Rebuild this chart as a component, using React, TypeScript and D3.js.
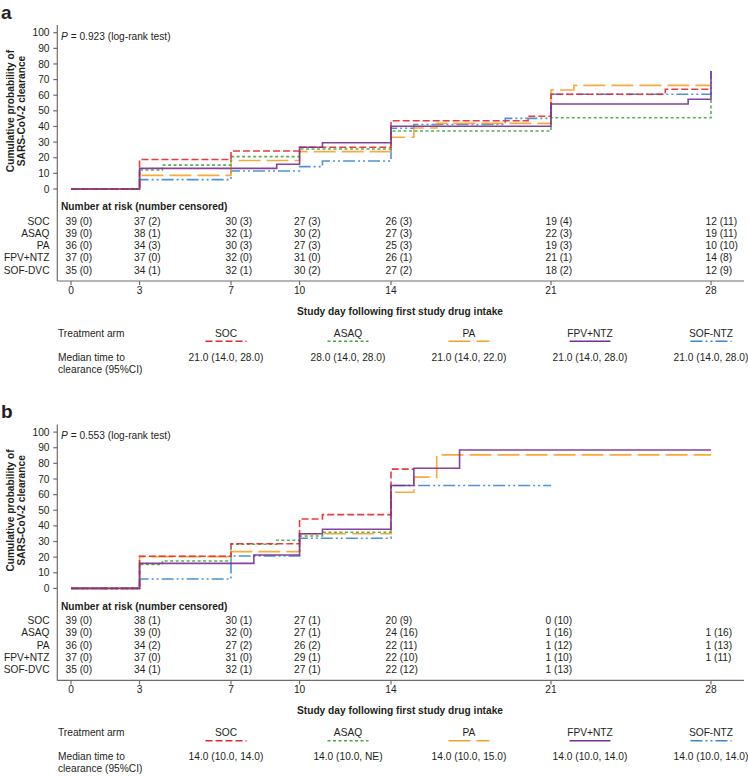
import React from "react";
import * as d3 from "d3";

// ---------- data ----------
const armNames = ["SOC", "ASAQ", "PA", "FPV+NTZ", "SOF-DVC"];
const legendNames = ["SOC", "ASAQ", "PA", "FPV+NTZ", "SOF-NTZ"];
const dayTicks = [0, 3, 7, 10, 14, 21, 28];
const yTicks = [0, 10, 20, 30, 40, 50, 60, 70, 80, 90, 100];

// Panel a step curves (day, cumulative %)
const aSocT = [0, 3, 7, 10, 14, 20, 21, 26, 28];
const aSocV = [0, 18.9, 24.3, 26.7, 43.7, 46.5, 60.6, 63.8, 63.8];
const aAsaqT = [0, 3, 4, 7, 10, 14, 21, 28];
const aAsaqV = [0, 12.2, 15.3, 20.7, 25.6, 37.1, 45.6, 56.9];
const aPaT = [0, 3, 7, 10, 14, 15, 16, 21, 22, 28];
const aPaV = [0, 8.7, 18.2, 23.9, 33.1, 39.0, 42.0, 63.3, 66.3, 66.3];
const aFpvT = [0, 3, 9, 10, 11, 14, 21, 27, 28];
const aFpvV = [0, 13.2, 15.8, 26.7, 29.6, 40.1, 54.4, 57.4, 75.5];
const aSofT = [0, 3, 7, 10, 11, 14, 15, 19, 21, 28];
const aSofV = [0, 6.0, 11.5, 14.3, 17.9, 38.9, 41.3, 45.2, 60.6, 75.5];

// Panel b step curves
const bSocT = [0, 3, 7, 10, 11, 14, 15];
const bSocV = [0, 20.6, 28.6, 44.4, 47.2, 76.3, 76.3];
const bAsaqT = [0, 3, 4, 7, 9, 10, 11, 14];
const bAsaqV = [0, 15.4, 17.5, 28.2, 30.8, 33.5, 35.9, 35.9];
const bPaT = [0, 3, 7, 10, 14, 15, 16, 28];
const bPaV = [0, 20.3, 23.5, 35.0, 61.5, 71.2, 85.4, 85.4];
const bFpvT = [0, 3, 8, 10, 11, 14, 15, 17, 28];
const bFpvV = [0, 16.0, 21.4, 35.0, 37.8, 65.8, 76.9, 88.5, 88.5];
const bSofT = [0, 3, 7, 10, 14, 21];
const bSofV = [0, 6.0, 20.7, 32.1, 65.8, 65.8];

// Numbers at risk
const aRiskSoc = ["39 (0)", "37 (2)", "30 (3)", "27 (3)", "26 (3)", "19 (4)", "12 (11)"];
const aRiskAsaq = ["39 (0)", "38 (1)", "32 (1)", "30 (2)", "27 (3)", "22 (3)", "19 (11)"];
const aRiskPa = ["36 (0)", "34 (3)", "30 (3)", "27 (3)", "25 (3)", "19 (3)", "10 (10)"];
const aRiskFpv = ["37 (0)", "37 (0)", "32 (0)", "31 (0)", "26 (1)", "21 (1)", "14 (8)"];
const aRiskSof = ["35 (0)", "34 (1)", "32 (1)", "30 (2)", "27 (2)", "18 (2)", "12 (9)"];

const bRiskSoc = ["39 (0)", "38 (1)", "30 (1)", "27 (1)", "20 (9)", "0 (10)", ""];
const bRiskAsaq = ["39 (0)", "39 (0)", "32 (0)", "27 (1)", "24 (16)", "1 (16)", "1 (16)"];
const bRiskPa = ["36 (0)", "34 (2)", "27 (2)", "26 (2)", "22 (11)", "1 (12)", "1 (13)"];
const bRiskFpv = ["37 (0)", "37 (0)", "31 (0)", "29 (1)", "22 (10)", "1 (10)", "1 (11)"];
const bRiskSof = ["35 (0)", "34 (1)", "32 (1)", "27 (1)", "22 (12)", "1 (13)", ""];

const aMedians = ["21.0 (14.0, 28.0)", "28.0 (14.0, 28.0)", "21.0 (14.0, 22.0)", "21.0 (14.0, 28.0)", "21.0 (14.0, 28.0)"];
const bMedians = ["14.0 (10.0, 14.0)", "14.0 (10.0, NE)", "14.0 (10.0, 15.0)", "14.0 (10.0, 14.0)", "14.0 (10.0, 14.0)"];

const aPValue = "0.923";
const bPValue = "0.553";

// ---------- styles ----------
const COLORS = ["#E8262C", "#45A844", "#F5A028", "#7A2F8F", "#3A86CF"];
const DASHES = ["7,3", "3,2.5", "22,6", "none", "12,3,2,3,2,3"];
const DRAW_ORDER = [4, 2, 1, 0, 3];
const FONT = "'Liberation Sans', Arial, Helvetica, sans-serif";
const TXT = "#231f20";
const AXIS = "#6d6d6d";
const FS = 10.2;

type PanelProps = {
  top: number;
  letter: string;
  pValue: string;
  curves: { t: number[]; v: number[] }[];
  risk: string[][];
  medians: string[];
};

const x = d3.scaleLinear().domain([0, 28]).range([71, 711]);

function Panel({ top, letter, pValue, curves, risk, medians }: PanelProps) {
  const y = d3.scaleLinear().domain([0, 100]).range([top + 189, top + 32.7]);
  const line = d3
    .line<[number, number]>()
    .x((d) => x(d[0]))
    .y((d) => y(d[1]))
    .curve(d3.curveStepAfter);
  const axisX = 57.3;
  const xAxisY = top + 281;
  const legendCenters = [226, 348, 469, 590, 711];
  return (
    <g fontFamily={FONT} fill={TXT}>
      <text x={1} y={top + 19} fontSize={19} fontWeight="bold">
        {letter}
      </text>
      {/* y axis */}
      <line x1={axisX} x2={axisX} y1={top + 25} y2={xAxisY} stroke={AXIS} strokeWidth={1.2} />
      {yTicks.map((t) => (
        <g key={t}>
          <line x1={axisX - 4} x2={axisX} y1={y(t)} y2={y(t)} stroke={AXIS} strokeWidth={1.2} />
          <text x={49.5} y={y(t) + 3.6} fontSize={FS} textAnchor="end">
            {t}
          </text>
        </g>
      ))}
      <g transform={`translate(0, ${top + 111}) rotate(-90)`}>
        <text x={0} y={14} fontSize={FS} fontWeight="bold" textAnchor="middle">
          Cumulative probability of
        </text>
        <text x={0} y={25} fontSize={FS} fontWeight="bold" textAnchor="middle">
          SARS-CoV-2 clearance
        </text>
      </g>
      <text x={61} y={top + 40} fontSize={FS}>
        <tspan fontStyle="italic">P</tspan> = {pValue} (log-rank test)
      </text>
      {/* curves */}
      {DRAW_ORDER.map((i) => {
        const pts: [number, number][] = curves[i].t.map((t, k) => [t, curves[i].v[k]]);
        return (
          <path
            key={i}
            d={line(pts) || ""}
            fill="none"
            stroke={COLORS[i]}
            strokeWidth={1.6}
            strokeOpacity={0.9}
            strokeDasharray={DASHES[i]}
          />
        );
      })}
      {/* risk table */}
      <text x={61} y={top + 210.3} fontSize={FS} fontWeight="bold">
        Number at risk (number censored)
      </text>
      {armNames.map((name, r) => (
        <g key={name}>
          <text x={49.5} y={top + 224.6 + r * 12.25} fontSize={FS} textAnchor="end">
            {name}
          </text>
          {risk[r].map((s, c) =>
            s ? (
              <text key={c} x={x(dayTicks[c]) - 5.5} y={top + 224.6 + r * 12.25} fontSize={FS}>
                {s}
              </text>
            ) : null
          )}
        </g>
      ))}
      {/* x axis */}
      <line x1={axisX} x2={744} y1={xAxisY} y2={xAxisY} stroke={AXIS} strokeWidth={1.2} />
      {dayTicks.map((d) => (
        <g key={d}>
          <line x1={x(d)} x2={x(d)} y1={xAxisY} y2={xAxisY + 4} stroke={AXIS} strokeWidth={1.2} />
          <text x={x(d)} y={top + 294} fontSize={FS} textAnchor="middle">
            {d}
          </text>
        </g>
      ))}
      <text x={400} y={top + 315} fontSize={FS} fontWeight="bold" textAnchor="middle">
        Study day following first study drug intake
      </text>
      {/* legend table */}
      <text x={58} y={top + 337} fontSize={FS}>
        Treatment arm
      </text>
      <text x={58} y={top + 361} fontSize={FS}>
        Median time to
      </text>
      <text x={58} y={top + 372.5} fontSize={FS}>
        clearance (95%CI)
      </text>
      {legendNames.map((name, i) => (
        <g key={name}>
          <text x={legendCenters[i]} y={top + 337} fontSize={FS} textAnchor="middle">
            {name}
          </text>
          <line
            x1={legendCenters[i] - 20.5}
            x2={legendCenters[i] + 20.5}
            y1={top + 341.3}
            y2={top + 341.3}
            stroke={COLORS[i]}
            strokeWidth={1.6}
            strokeDasharray={DASHES[i]}
          />
          <text x={legendCenters[i]} y={top + 361} fontSize={FS} textAnchor="middle">
            {medians[i]}
          </text>
        </g>
      ))}
    </g>
  );
}

export default function App() {
  const aCurves = [
    { t: aSocT, v: aSocV },
    { t: aAsaqT, v: aAsaqV },
    { t: aPaT, v: aPaV },
    { t: aFpvT, v: aFpvV },
    { t: aSofT, v: aSofV },
  ];
  const bCurves = [
    { t: bSocT, v: bSocV },
    { t: bAsaqT, v: bAsaqV },
    { t: bPaT, v: bPaV },
    { t: bFpvT, v: bFpvV },
    { t: bSofT, v: bSofV },
  ];
  return (
    <>
      <style>{`body{margin:0;background:#fff}`}</style>
      <svg width={748} height={776} style={{ display: "block" }}>
        <rect width={748} height={776} fill="#fff" />
        <Panel
          top={0}
          letter="a"
          pValue={aPValue}
          curves={aCurves}
          risk={[aRiskSoc, aRiskAsaq, aRiskPa, aRiskFpv, aRiskSof]}
          medians={aMedians}
        />
        <Panel
          top={399.4}
          letter="b"
          pValue={bPValue}
          curves={bCurves}
          risk={[bRiskSoc, bRiskAsaq, bRiskPa, bRiskFpv, bRiskSof]}
          medians={bMedians}
        />
      </svg>
    </>
  );
}
